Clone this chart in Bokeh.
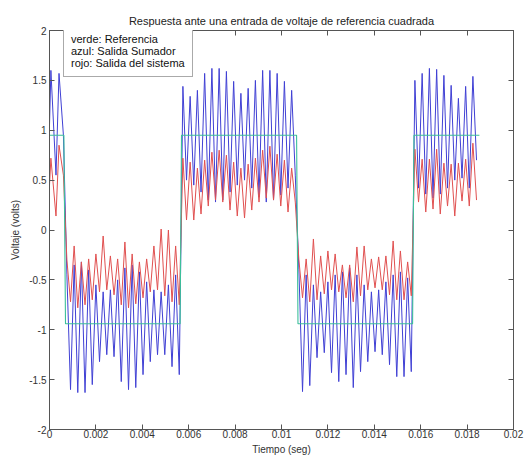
import numpy as np
from bokeh.plotting import figure
from bokeh.models import (LinearAxis, FixedTicker, Range1d, Legend, LegendItem,
                          CustomJSTickFormatter)
from bokeh.embed import file_html
from bokeh.resources import INLINE

# ---------------- data ----------------
x_ticks = [0, 0.002, 0.004, 0.006, 0.008, 0.01, 0.012, 0.014, 0.016, 0.018, 0.02]
x_tick_labels = ["0", "0.002", "0.004", "0.006", "0.008", "0.01", "0.012",
                 "0.014", "0.016", "0.018", "0.02"]
y_ticks = [-2, -1.5, -1, -0.5, 0, 0.5, 1, 1.5, 2]
y_tick_labels = ["-2", "-1.5", "-1", "-0.5", "0", "0.5", "1", "1.5", "2"]

# green reference (square wave)
ref_t = [0.0, 0.00062, 0.00069, 0.00563, 0.00569, 0.01065, 0.01071,
         0.01565, 0.01571, 0.01853]
ref_v = [0.95, 0.95, -0.94, -0.94, 0.95, 0.95, -0.94, -0.94, 0.95, 0.95]

# start of the record (first high half-cycle)
start_t = [0.0, 0.00006, 0.00028, 0.00041, 0.00060]
blue_start = [1.05, 1.60, 0.55, 1.57, 0.95]
red_start = [0.45, 0.72, 0.14, 0.85, 0.55]

# afterwards: extremes read every half oscillation (period ~0.0003125 s)
ext_t0 = 0.00075
ext_dt = 0.00015625

# blue (salida sumador): upper / lower extremes per half-cycle of the reference
blue1_up = [-0.45, -0.35, -0.32, -0.40, -0.55, -0.62, -0.60, -0.50,
            -0.38, -0.35, -0.42, -0.52, -0.60, -0.62, -0.55, -0.45]
blue1_dn = [-1.60, -1.63, -1.63, -1.55, -1.32, -1.25, -1.27, -1.52,
            -1.60, -1.58, -1.45, -1.32, -1.25, -1.25, -1.37, -1.45]
blue2_up = [1.44, 1.34, 1.40, 1.57, 1.62, 1.62, 1.59, 1.49,
            1.37, 1.42, 1.50, 1.60, 1.60, 1.57, 1.49, 1.40]
blue2_dn = [0.50, 0.45, 0.38, 0.30, 0.28, 0.30, 0.38, 0.45,
            0.50, 0.42, 0.33, 0.28, 0.30, 0.35, 0.42, 0.55]
blue3_up = [-0.40, -0.45, -0.55, -0.62, -0.52, -0.45, -0.42, -0.38,
            -0.45, -0.55, -0.62, -0.60, -0.52, -0.45, -0.42, -0.48]
blue3_dn = [-1.62, -1.56, -1.28, -1.23, -1.43, -1.52, -1.45, -1.58,
            -1.42, -1.32, -1.22, -1.25, -1.35, -1.47, -1.47, -1.42]
blue4_up = [1.50, 1.57, 1.62, 1.61, 1.55, 1.45, 1.32, 1.44, 1.54]
blue4_dn = [0.42, 0.36, 0.32, 0.36, 0.42, 0.50, 0.52, 0.42, 0.70]

# red (salida del sistema)
red1_up = [-0.30, -0.16, -0.32, -0.29, -0.24, -0.06, -0.26, -0.29,
           -0.12, -0.24, -0.32, -0.29, -0.16, 0.01, 0.00, -0.16]
red1_dn = [-0.72, -0.78, -0.75, -0.70, -0.62, -0.60, -0.65, -0.75,
           -0.78, -0.74, -0.68, -0.62, -0.60, -0.66, -0.72, -0.75]
red2_up = [0.72, 0.68, 0.62, 0.70, 0.78, 0.80, 0.75, 0.68,
           0.62, 0.66, 0.72, 0.80, 0.84, 0.76, 0.70, 0.62]
red2_dn = [0.10, 0.10, 0.16, 0.24, 0.30, 0.28, 0.20, 0.14,
           0.12, 0.20, 0.28, 0.32, 0.30, 0.24, 0.18, 0.28]
red3_up = [-0.30, -0.29, -0.09, -0.26, -0.21, -0.24, -0.35, -0.35,
           -0.17, -0.16, -0.29, -0.27, -0.26, -0.11, -0.21, -0.32]
red3_dn = [-0.68, -0.72, -0.70, -0.64, -0.60, -0.62, -0.68, -0.72,
           -0.66, -0.60, -0.58, -0.60, -0.65, -0.70, -0.70, -0.66]
red4_up = [0.81, 0.71, 0.71, 0.81, 0.67, 0.66, 0.67, 0.71, 0.87]
red4_dn = [0.28, 0.18, 0.21, 0.16, 0.24, 0.14, 0.29, 0.24, 0.30]


def interleave(pairs):
    out = []
    for up, dn in pairs:
        for a, b in zip(up, dn):
            out += [a, b]
    return out


blue_ext = interleave([(blue1_up, blue1_dn), (blue2_up, blue2_dn),
                       (blue3_up, blue3_dn), (blue4_up, blue4_dn)])
red_ext = interleave([(red1_up, red1_dn), (red2_up, red2_dn),
                      (red3_up, red3_dn), (red4_up, red4_dn)])
ext_t = list(ext_t0 + ext_dt * np.arange(len(blue_ext)))

blue_t = start_t + ext_t
blue_v = blue_start + blue_ext
red_t = start_t + ext_t
red_v = red_start + red_ext

# ---------------- figure ----------------
FONT = "Liberation Sans"
AX = "#555555"

p = figure(width=524, height=457, output_backend="svg", toolbar_location=None,
           x_range=Range1d(0, 0.02), y_range=Range1d(-2, 2),
           min_border_left=49, min_border_right=11, min_border_top=30,
           min_border_bottom=25, x_axis_label="Tiempo (seg)",
           y_axis_label="Voltaje (volts)")
p.background_fill_color = "white"
p.border_fill_color = "white"
p.outline_line_color = AX
p.xgrid.visible = False
p.ygrid.visible = False

p.title.text = "Respuesta ante una entrada de voltaje de referencia cuadrada"
p.title.align = "center"
p.title.text_font = FONT
p.title.text_font_size = "11px"
p.title.text_font_style = "normal"
p.title.text_color = "#222222"
p.title.standoff = 8

for ax, ticks, labels in ((p.xaxis[0], x_ticks, x_tick_labels),
                          (p.yaxis[0], y_ticks, y_tick_labels)):
    ax.ticker = FixedTicker(ticks=ticks)
    ax.major_label_overrides = {t: l for t, l in zip(ticks, labels)}
    ax.major_tick_in = 5
    ax.major_tick_out = 0
    ax.minor_tick_line_color = None
    ax.axis_line_color = AX
    ax.major_tick_line_color = AX
    ax.major_label_text_font = FONT
    ax.major_label_text_font_size = "10px"
    ax.major_label_text_color = "#333333"
    ax.axis_label_text_font = FONT
    ax.axis_label_text_font_size = "10px"
    ax.axis_label_text_font_style = "normal"
    ax.axis_label_text_color = "#333333"

p.xaxis[0].major_label_standoff = 0
p.xaxis[0].axis_label_standoff = 3
p.yaxis[0].major_label_standoff = 3
p.yaxis[0].axis_label_standoff = 5

for loc, ticks in (("above", x_ticks), ("right", y_ticks)):
    ax2 = LinearAxis(ticker=FixedTicker(ticks=ticks),
                     formatter=CustomJSTickFormatter(code="return ''"),
                     major_tick_in=5, major_tick_out=0,
                     minor_tick_line_color=None, axis_line_color=AX,
                     major_tick_line_color=AX, major_label_standoff=0,
                     major_label_text_font_size="1px")
    p.add_layout(ax2, loc)

r_blue = p.line(blue_t, blue_v, line_color="#4040d4", line_width=1.0)
r_red = p.line(red_t, red_v, line_color="#e05050", line_width=1.0)
r_green = p.line(ref_t, ref_v, line_color="#3cbf9a", line_width=1.1)

legend = Legend(items=[
    LegendItem(label="verde: Referencia", renderers=[r_green]),
    LegendItem(label="azul: Salida Sumador", renderers=[r_blue]),
    LegendItem(label="rojo: Salida del sistema", renderers=[r_red]),
], location=(14, 352), glyph_width=0, glyph_height=12, label_height=12,
    label_standoff=0, spacing=0, padding=7, margin=0,
    label_text_font=FONT, label_text_font_size="11px",
    label_text_color="#111111", border_line_color=AX,
    background_fill_color="white", background_fill_alpha=1.0,
    label_text_line_height=1.0)
p.add_layout(legend, "center")

open("out.html", "w").write(file_html(p, INLINE))
